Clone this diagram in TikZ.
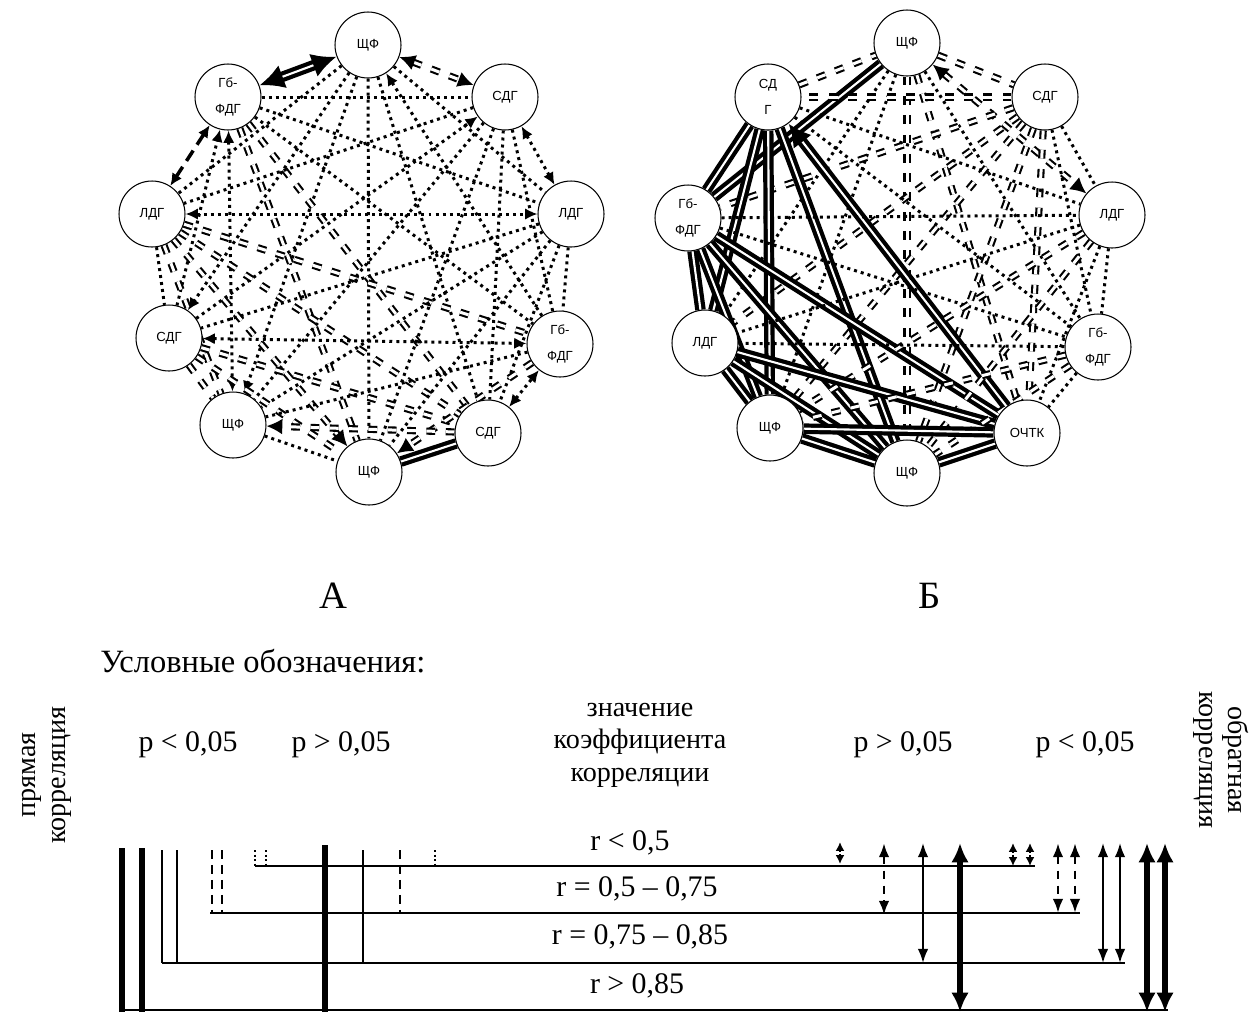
\documentclass[tikz,border=0pt]{standalone}
\usepackage{fontspec}
\setmainfont{Liberation Serif}
\setsansfont{Liberation Sans}
\usetikzlibrary{arrows.meta,backgrounds}
\begin{document}
\begin{tikzpicture}[x=0.02cm,y=-0.02cm,
  >={Latex[length=7pt,width=6.5pt]},
  nd/.style={circle,draw,line width=0.6pt,fill=white,minimum size=1.32cm,inner sep=0pt,
     font=\sffamily\fontsize{7.5}{15}\selectfont,align=center},
  dot/.style={line width=1.7pt,dash pattern=on 1.7pt off 2.3pt},
  dotb/.style={dot,<->},
  dote/.style={dot,->},
  dd/.style={line width=1.2pt,double=white,double distance=1.7pt,dash pattern=on 5pt off 6pt},
  dde/.style={dd,-{Latex[length=9pt,width=9pt]}},
  ddb/.style={dd,{Latex[length=9pt,width=9pt]}-{Latex[length=9pt,width=9pt]}},
  td/.style={line width=2.4pt,double=white,double distance=1.2pt},
  tde/.style={td,-{Latex[length=13pt,width=13pt]}},
  tdb/.style={td,{Latex[length=14pt,width=14pt]}-{Latex[length=14pt,width=14pt]}},
  sdb/.style={line width=2pt,dash pattern=on 7pt off 4pt,<->},
  txt/.style={font=\fontsize{17}{19}\selectfont,inner sep=0pt},
  lthick/.style={line width=3pt},
  lthin/.style={line width=1.2pt},
  ldash/.style={line width=1.6pt,dash pattern=on 5pt off 3.5pt},
  ldot/.style={line width=1.5pt,dash pattern=on 1.3pt off 1.3pt},
  hline/.style={line width=0.9pt},
  tipT/.style={{Latex[length=5pt,width=5pt]}-{Latex[length=5pt,width=5pt]}},
  tipS/.style={{Latex[length=8pt,width=6pt]}-{Latex[length=8pt,width=6pt]}},
  tipB/.style={{Latex[length=11pt,width=10pt]}-{Latex[length=11pt,width=10pt]}}
]
\useasboundingbox (0,0) rectangle (1255,1012);

% ---------- graph A ----------
\node[nd] (a1) at (368,45) {ЩФ};
\node[nd] (a2) at (228,97) {Гб-\\ФДГ};
\node[nd] (a3) at (505,97) {СДГ};
\node[nd] (a4) at (152,214) {ЛДГ};
\node[nd] (a5) at (571,214) {ЛДГ};
\node[nd] (a6) at (169,338) {СДГ};
\node[nd] (a7) at (560,344) {Гб-\\ФДГ};
\node[nd] (a8) at (233,425) {ЩФ};
\node[nd] (a9) at (488,433) {СДГ};
\node[nd] (a10) at (369,472) {ЩФ};

% ---------- graph B ----------
\node[nd] (b1) at (907,43) {ЩФ};
\node[nd] (b2) at (1045,97) {СДГ};
\node[nd] (b3) at (768,97) {СД\\Г};
\node[nd] (b4) at (688,218) {Гб-\\ФДГ};
\node[nd] (b5) at (1112,215) {ЛДГ};
\node[nd] (b6) at (705,343) {ЛДГ};
\node[nd] (b7) at (1098,347) {Гб-\\ФДГ};
\node[nd] (b8) at (770,428) {ЩФ};
\node[nd] (b9) at (1027,433) {ОЧТК};
\node[nd] (b10) at (907,473) {ЩФ};

\begin{pgfonlayer}{background}
\foreach \i/\j/\s in {
  2/1/tdb, 1/3/ddb, 2/4/sdb, 3/5/dotb, 4/6/dot, 5/7/dot, 6/8/dd, 8/10/dot, 10/9/td, 9/7/dotb,
  1/4/dot, 1/5/dot, 1/6/dote, 7/1/dote, 1/8/dote, 1/9/dot, 1/10/dot,
  2/3/dot, 2/5/dot, 6/2/dote, 2/7/dot, 2/8/dotb, 2/9/dd, 2/10/dd,
  3/4/dot, 6/3/dote, 3/7/dot, 3/8/dot, 3/9/dot, 3/10/dot,
  4/5/dotb, 4/7/dd, 4/8/dd, 4/9/dd, 4/10/dde,
  5/6/dot, 5/8/dot, 5/9/dot, 5/10/dot,
  6/7/dotb, 6/9/dd, 6/10/dd, 7/8/dot, 7/10/dde, 9/8/dde}
  \draw[\s] (a\i) -- (a\j);
\foreach \i/\j/\s in {
  1/2/dd, 2/5/dot, 5/7/dot, 7/9/dot, 9/10/td, 10/8/td, 8/6/td, 6/4/td, 4/3/td, 3/1/dd,
  1/4/td, 1/5/ddb, 1/6/dot, 1/7/dot, 1/8/dot, 1/9/dd, 1/10/dd,
  2/3/dd, 2/4/dd, 2/6/dd, 2/7/dot, 2/8/dd, 2/9/dd, 2/10/dd,
  3/5/dot, 3/6/td, 3/7/dot, 3/8/td, 9/3/tde, 3/10/td,
  4/5/dot, 4/7/dot, 4/8/td, 4/9/td, 4/10/td,
  5/6/dot, 5/8/dd, 5/9/dot, 5/10/dd,
  6/7/dot, 6/9/td, 6/10/td, 7/8/dd, 7/10/dd, 8/9/td}
  \draw[\s] (b\i) -- (b\j);
\end{pgfonlayer}

% ---------- captions ----------
\node[font=\fontsize{22}{24}\selectfont] (capA) at (333,596) {А};
\node[font=\fontsize{22}{24}\selectfont] (capB) at (930,596) {Б};
\node[txt,anchor=west,font=\fontsize{18.5}{21}\selectfont] (leg) at (100,661) {Условные обозначения:};

\node[txt,align=center,font=\fontsize{16}{18.5}\selectfont] (zn) at (640,745) {значение\\коэффициента\\корреляции};
\node[txt] (p1) at (188,745) {p < 0,05};
\node[txt] (p2) at (341,745) {p > 0,05};
\node[txt] (p3) at (903,745) {p > 0,05};
\node[txt] (p4) at (1085,745) {p < 0,05};
\node[txt,rotate=90,align=center,font=\fontsize{16}{17}\selectfont] (pr) at (47,775) {прямая\\корреляция};
\node[txt,rotate=-90,align=center,font=\fontsize{16}{17}\selectfont] (ob) at (1221,760) {обратная\\корреляция};

\node[txt] (r1) at (630,843) {r < 0,5};
\node[txt] (r2) at (637,889) {r = 0,5 – 0,75};
\node[txt] (r3) at (640,937) {r = 0,75 – 0,85};
\node[txt] (r4) at (637,986) {r > 0,85};

% horizontal lines
\draw[hline] (255,866) -- (1035,866);
\draw[hline] (210,913) -- (1080,913);
\draw[hline] (162,963) -- (1125,963);
\draw[hline] (122,1010) -- (1168,1010);

% left markers (direct correlation)
\draw[lthick] (122,848) -- (122,1012);
\draw[lthick] (142,848) -- (142,1012);
\draw[lthin] (162,850) -- (162,963);
\draw[lthin] (177,850) -- (177,963);
\draw[ldash] (212,850) -- (212,913);
\draw[ldash] (222,850) -- (222,913);
\draw[ldot] (255,850) -- (255,866);
\draw[ldot] (266,850) -- (266,866);
\draw[line width=3.5pt] (325,845) -- (325,1012);
\draw[lthin] (363,850) -- (363,963);
\draw[ldash] (400,850) -- (400,913);
\draw[ldot] (435,850) -- (435,866);

% right markers (inverse correlation)
\draw[ldot,tipT] (840,842) -- (840,864);
\draw[ldash,tipS] (884,843) -- (884,915);
\draw[lthin,tipS] (923,843) -- (923,963);
\draw[lthick,tipB] (960,843) -- (960,1012);
\draw[ldot,tipT] (1013,843) -- (1013,866);
\draw[ldot,tipT] (1030,843) -- (1030,866);
\draw[ldash,tipS] (1058,843) -- (1058,913);
\draw[ldash,tipS] (1075,843) -- (1075,913);
\draw[lthin,tipS] (1103,843) -- (1103,963);
\draw[lthin,tipS] (1120,843) -- (1120,963);
\draw[lthick,tipB] (1147,843) -- (1147,1012);
\draw[lthick,tipB] (1165,843) -- (1165,1012);
\end{tikzpicture}
\end{document}
